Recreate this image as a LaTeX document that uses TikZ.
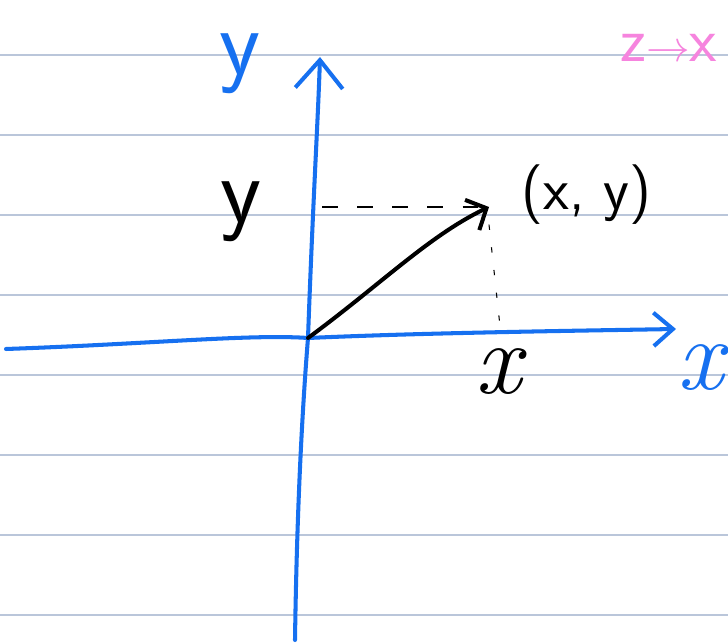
\documentclass[tikz,border=0pt]{standalone}
\usepackage{amsmath}
\usetikzlibrary{arrows.meta,positioning}
\definecolor{penblue}{RGB}{22,112,240}
\definecolor{rulecol}{RGB}{186,198,218}
\definecolor{penpink}{RGB}{246,132,222}
\tikzset{
  sk/rule/.style={draw=rulecol, line width=0.7pt},
  sk/axis/.style={draw=penblue, line width=2.3pt, line cap=round, line join=round},
  sk/vec/.style={draw=black, line width=2.3pt, line cap=round,
    -{Straight Barb[length=9pt, width=19pt]}},
  sk/guide/.style={draw=black, line width=0.8pt, dash pattern=on 9pt off 11pt},
  sk/dots/.style={draw=black, line width=0.6pt, dash pattern=on 3pt off 10pt},
  sk/label/.style={inner sep=0pt, font=\sffamily\fontsize{54}{60}\selectfont},
  sk/xlabel/.style={inner sep=0pt, font=\itshape\fontsize{58}{64}\selectfont}
}
\begin{document}
\begin{tikzpicture}[x=0.02cm, y=-0.02cm]
  \clip (0,0) rectangle (728,644);
  \fill[white] (0,0) rectangle (728,644);

  % ruled paper
  \foreach \ry in {55,135,...,615}
    \draw[sk/rule] (0,\ry) -- (728,\ry);

  % named points
  \coordinate (O) at (308,338);
  \coordinate (P) at (489,207);
  \coordinate (Py) at (322,207);
  \coordinate (Px) at (500,326);
  \coordinate (xstart) at (6,349);
  \coordinate (xend) at (676,329);
  \coordinate (ystart) at (295,640);
  \coordinate (yend) at (320,57);

  % axes
  \draw[sk/axis, -{Straight Barb[length=11pt, width=19pt]}]
    (xstart) .. controls (150,344) and (250,334) .. (O)
    .. controls (420,333) and (560,331) .. (xend);
  \draw[sk/axis, -{Straight Barb[length=16pt, width=27pt]}]
    (ystart) .. controls (297,500) and (303,400) .. (O)
    .. controls (313,200) and (318,120) .. (yend);

  % vector and guides
  \draw[sk/vec] (O) .. controls (380,285) and (430,235) .. (P);
  \draw[sk/guide] (Py) -- (P);
  \draw[sk/dots] ([yshift=-10pt]P) -- (Px);

  % labels
  \node[sk/label, text=penblue] (ylab) at (240,64) {y};
  \node[sk/xlabel, text=penblue] (xlab) at (700,368) {x};
  \node[sk/label] (yval) at (241,212) {y};
  \node[sk/xlabel] (xval) at (498,372) {x};
  \node[inner sep=0pt, font=\sffamily\fontsize{34}{38}\selectfont, anchor=west]
    (plab) at (521,195) {(x, y)};
  \node[inner sep=0pt, text=penpink, font=\sffamily\fontsize{36}{40}\selectfont, anchor=west]
    (zlab) at (620,48) {z$\to$x};
\end{tikzpicture}
\end{document}
